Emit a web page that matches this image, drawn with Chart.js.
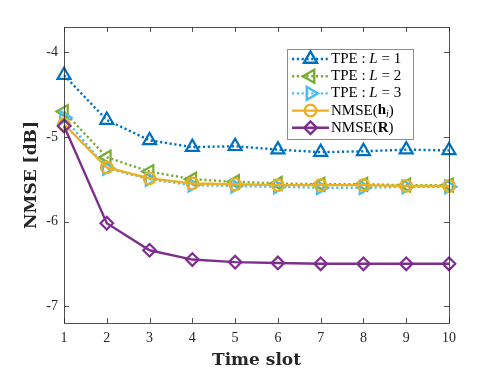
<!DOCTYPE html>
<html>
<head>
<meta charset="utf-8">
<script src="https://cdn.jsdelivr.net/npm/chart.js@4.4.0/dist/chart.umd.min.js"></script>
<style>
html, body { margin: 0; padding: 0; background: #fff; }
#wrap { width: 496px; height: 372px; }
</style>
</head>
<body>
<div id="wrap"><canvas id="chart"></canvas></div>
<script>
// data
const slots = ['1', '2', '3', '4', '5', '6', '7', '8', '9', '10'];
const tpeL1 = [-4.27, -4.80, -5.04, -5.12, -5.11, -5.15, -5.18, -5.17, -5.15, -5.16];
const tpeL2 = [-4.70, -5.24, -5.41, -5.50, -5.53, -5.55, -5.56, -5.56, -5.57, -5.57];
const tpeL3 = [-4.77, -5.37, -5.50, -5.57, -5.58, -5.59, -5.60, -5.60, -5.59, -5.59];
const nmseH = [-4.85, -5.36, -5.49, -5.55, -5.56, -5.57, -5.57, -5.57, -5.58, -5.58];
const nmseR = [-4.87, -6.02, -6.34, -6.45, -6.48, -6.49, -6.50, -6.50, -6.50, -6.50];
const yTicks = [-7, -6, -5, -4];

const blue = '#0072BD', green = '#77AC30', cyan = '#4DBEEE', orange = '#EDB120', purple = '#7E2F8E';
const axisColor = '#262626';
const serif = "'Liberation Serif', 'DejaVu Serif', serif";
const hollow = 'rgba(0,0,0,0)';
const dots = [2.2, 2.6];

function series(data, color, style, rot, radius, dotted, order) {
    return {
        data: data,
        borderColor: color,
        backgroundColor: hollow,
        borderWidth: 2.4,
        borderDash: dotted ? dots : [],
        borderCapStyle: 'butt',
        pointStyle: style,
        rotation: rot,
        pointRadius: radius,
        pointBorderWidth: 2.2,
        pointBorderColor: color,
        pointBackgroundColor: hollow,
        tension: 0,
        order: order
    };
}

// legend rows: pieces of text [string, font style]
const legendRows = [
    { color: blue, dotted: true, style: 'triangle', rot: 0, r: 7.5, text: [['TPE', ''], [' : ', ''], ['L', 'italic '], [' = 1', '']] },
    { color: green, dotted: true, style: 'triangle', rot: -90, r: 7.5, text: [['TPE', ''], [' : ', ''], ['L', 'italic '], [' = 2', '']] },
    { color: cyan, dotted: true, style: 'triangle', rot: 90, r: 7.5, text: [['TPE', ''], [' : ', ''], ['L', 'italic '], [' = 3', '']] },
    { color: orange, dotted: false, style: 'circle', rot: 0, r: 5.8, text: [['NMSE(', ''], ['h', 'bold '], ['i', 'sub'], [')', '']] },
    { color: purple, dotted: false, style: 'rectRot', rot: 0, r: 6.3, text: [['NMSE(', ''], ['R', 'bold '], [')', '']] }
];

const framePlugin = {
    id: 'frame',
    afterDraw(chart) {
        const ctx = chart.ctx;
        const a = chart.chartArea;
        const xs = chart.scales.x, ys = chart.scales.y;
        ctx.save();
        ctx.strokeStyle = axisColor;
        ctx.lineWidth = 0.8;
        ctx.setLineDash([]);
        ctx.strokeRect(Math.round(a.left) + 0.5, Math.round(a.top) + 0.5, Math.round(a.right - a.left), Math.round(a.bottom - a.top));
        ctx.beginPath();
        const tl = 5;
        slots.forEach((s, i) => {
            const x = Math.round(xs.getPixelForValue(i)) + 0.5;
            ctx.moveTo(x, a.bottom); ctx.lineTo(x, a.bottom - tl);
            ctx.moveTo(x, a.top); ctx.lineTo(x, a.top + tl);
        });
        yTicks.forEach(v => {
            const y = Math.round(ys.getPixelForValue(v)) + 0.5;
            ctx.moveTo(a.left, y); ctx.lineTo(a.left + tl, y);
            ctx.moveTo(a.right, y); ctx.lineTo(a.right - tl, y);
        });
        ctx.stroke();

        // legend box
        const bx = 287.5, by = 49.5, bw = 126, bh = 90;
        ctx.fillStyle = '#fff';
        ctx.fillRect(bx, by, bw, bh);
        ctx.strokeStyle = '#8c8c8c';
        ctx.lineWidth = 1;
        ctx.strokeRect(bx, by, bw, bh);
        legendRows.forEach((row, i) => {
            const y = 59 + i * 17.2;
            ctx.strokeStyle = row.color;
            ctx.lineWidth = 2.4;
            ctx.lineCap = 'butt';
            ctx.setLineDash(row.dotted ? dots : []);
            ctx.beginPath();
            ctx.moveTo(292, y); ctx.lineTo(329, y);
            ctx.stroke();
            ctx.setLineDash([]);
            ctx.fillStyle = hollow;
            Chart.helpers.drawPoint(ctx, { pointStyle: row.style, rotation: row.rot, radius: row.r, borderWidth: 2.2 }, 310.5, y);
            let tx = 331;
            ctx.fillStyle = '#000';
            ctx.textBaseline = 'middle';
            ctx.textAlign = 'left';
            row.text.forEach(p => {
                if (p[1] === 'sub') {
                    ctx.font = 'italic 10px ' + serif;
                    ctx.fillText(p[0], tx, y + 4);
                } else {
                    ctx.font = p[1] + '15px ' + serif;
                    ctx.fillText(p[0], tx, y);
                }
                tx += ctx.measureText(p[0]).width;
            });
        });
        ctx.restore();
    }
};

new Chart(document.getElementById('chart'), {
    type: 'line',
    data: {
        labels: slots,
        datasets: [
            series(tpeL1, blue, 'triangle', 0, 7.5, true, 5),
            series(tpeL2, green, 'triangle', -90, 7.5, true, 4),
            series(tpeL3, cyan, 'triangle', 90, 7.5, true, 3),
            series(nmseH, orange, 'circle', 0, 5.8, false, 2),
            series(nmseR, purple, 'rectRot', 0, 6.3, false, 1)
        ]
    },
    options: {
        responsive: true,
        maintainAspectRatio: false,
        animation: false,
        layout: { padding: { left: 0, top: 27, right: 47, bottom: 0 } },
        plugins: { legend: { display: false }, tooltip: { enabled: false } },
        scales: {
            x: {
                offset: false,
                grid: { display: false, tickLength: 0 },
                border: { display: false },
                ticks: { color: axisColor, font: { family: serif, size: 14 }, padding: 7, autoSkip: false, maxRotation: 0 },
                title: { display: true, text: 'Time slot', color: axisColor, font: { family: 'DejaVu Serif', size: 17, weight: 'bold' }, padding: { top: 0, bottom: 1 } },
                afterFit: s => { s.height = 49; }
            },
            y: {
                min: -7.2,
                max: -3.7,
                grid: { display: false, tickLength: 0 },
                border: { display: false },
                ticks: { color: axisColor, font: { family: serif, size: 14 }, padding: 6 },
                afterBuildTicks: s => { s.ticks = yTicks.map(v => ({ value: v })); },
                title: { display: true, text: 'NMSE [dB]', color: axisColor, font: { family: 'DejaVu Serif', size: 17, weight: 'bold' }, padding: { top: 21, bottom: 0 } },
                afterFit: s => { s.width = 64; }
            }
        }
    },
    plugins: [framePlugin]
});
</script>
</body>
</html>
